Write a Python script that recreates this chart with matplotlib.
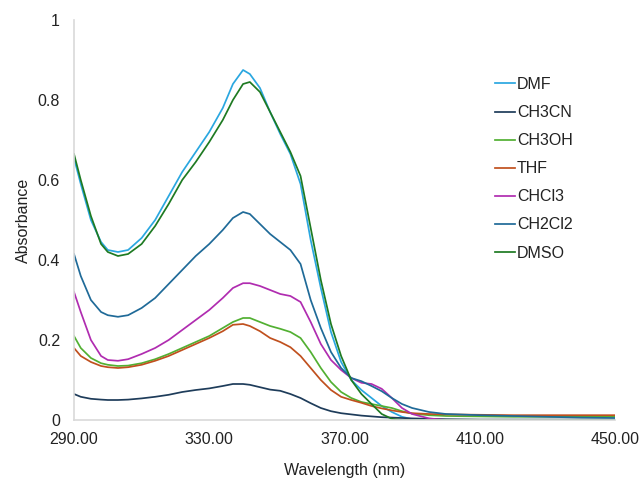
import matplotlib.pyplot as plt

plt.rcParams['font.family'] = ['Liberation Sans', 'DejaVu Sans']

# Wavelength grid (nm) shared by all solvent spectra
wavelength = [290, 292, 295, 298, 300, 303, 306, 310, 314, 318, 322, 326, 330,
              334, 337, 340, 342, 345, 348, 351, 354, 357, 360, 363, 366, 369,
              372, 375, 378, 381, 384, 387, 390, 395, 400, 410, 420, 430, 440, 450]

dmf = [0.655, 0.59, 0.50, 0.445, 0.425, 0.42, 0.425, 0.455, 0.50, 0.56, 0.62, 0.67, 0.72,
       0.78, 0.84, 0.875, 0.865, 0.83, 0.77, 0.715, 0.665, 0.59, 0.45, 0.33, 0.22, 0.145,
       0.10, 0.075, 0.055, 0.035, 0.02, 0.008, 0.002, 0.0, 0.0, 0.0, 0.0, 0.0, 0.0, 0.0]

ch3cn = [0.065, 0.058, 0.053, 0.051, 0.05, 0.05, 0.051, 0.054, 0.058, 0.063, 0.07, 0.075, 0.079,
         0.085, 0.09, 0.09, 0.088, 0.082, 0.076, 0.073, 0.065, 0.055, 0.042, 0.03, 0.022, 0.017,
         0.014, 0.011, 0.009, 0.007, 0.006, 0.005, 0.004, 0.003, 0.002, 0.001, 0.001, 0.001, 0.001, 0.001]

ch3oh = [0.21, 0.18, 0.155, 0.142, 0.138, 0.135, 0.136, 0.142, 0.152, 0.165, 0.18, 0.195, 0.21,
         0.23, 0.245, 0.255, 0.255, 0.245, 0.235, 0.228, 0.22, 0.205, 0.17, 0.13, 0.095, 0.07,
         0.055, 0.045, 0.04, 0.035, 0.03, 0.022, 0.016, 0.012, 0.01, 0.009, 0.008, 0.008, 0.008, 0.008]

thf = [0.18, 0.16, 0.145, 0.135, 0.132, 0.13, 0.132, 0.138, 0.148, 0.16, 0.175, 0.19, 0.205,
       0.222, 0.238, 0.24, 0.235, 0.222, 0.205, 0.195, 0.182, 0.16, 0.13, 0.10, 0.075, 0.058,
       0.05, 0.043, 0.035, 0.029, 0.024, 0.02, 0.017, 0.015, 0.014, 0.013, 0.012, 0.012, 0.012, 0.012]

chcl3 = [0.32, 0.27, 0.20, 0.16, 0.15, 0.148, 0.152, 0.165, 0.18, 0.20, 0.225, 0.25, 0.275,
         0.305, 0.33, 0.342, 0.342, 0.335, 0.325, 0.315, 0.31, 0.295, 0.245, 0.19, 0.15, 0.125,
         0.105, 0.093, 0.09, 0.078, 0.055, 0.03, 0.015, 0.004, 0.0, 0.0, 0.0, 0.0, 0.0, 0.0]

ch2cl2 = [0.415, 0.36, 0.30, 0.27, 0.262, 0.258, 0.262, 0.28, 0.305, 0.34, 0.375, 0.41, 0.44,
          0.475, 0.505, 0.52, 0.515, 0.49, 0.465, 0.445, 0.425, 0.39, 0.30, 0.23, 0.17, 0.13,
          0.105, 0.097, 0.085, 0.072, 0.055, 0.04, 0.03, 0.02, 0.015, 0.012, 0.01, 0.008, 0.006, 0.005]

dmso = [0.665, 0.60, 0.51, 0.44, 0.42, 0.41, 0.415, 0.44, 0.485, 0.54, 0.60, 0.645, 0.695,
        0.75, 0.80, 0.84, 0.845, 0.82, 0.77, 0.72, 0.67, 0.61, 0.48, 0.35, 0.24, 0.16,
        0.10, 0.065, 0.04, 0.015, 0.003, 0.0, 0.0, 0.0, 0.0, 0.0, 0.0, 0.0, 0.0, 0.0]

solvents = ["DMF", "CH3CN", "CH3OH", "THF", "CHCl3", "CH2Cl2", "DMSO"]
spectra = [dmf, ch3cn, ch3oh, thf, chcl3, ch2cl2, dmso]
colors = ["#2aa7e0", "#1e3c5a", "#52b032", "#c0501e", "#b02cb0", "#1f6a98", "#1e7a22"]

xticks = [290, 330, 370, 410, 450]
yticks = [0, 0.2, 0.4, 0.6, 0.8, 1]
ytick_labels = ["0", "0.2", "0.4", "0.6", "0.8", "1"]

fig = plt.figure(figsize=(6.42, 4.79), dpi=100)
ax = fig.add_axes([74 / 642, 1 - 420 / 479, (615 - 74) / 642, 400 / 479])

for spec, name, col in zip(spectra, solvents, colors):
    ax.plot(wavelength, spec, color=col, lw=1.25, label=name)

ax.set_xlim(290, 450)
ax.set_ylim(0, 1)
ax.set_xticks(xticks)
ax.set_xticklabels(["{:.2f}".format(v) for v in xticks])
ax.set_yticks(yticks)
ax.set_yticklabels(ytick_labels)
ax.tick_params(length=0, labelsize=11.5, colors="#222222")
ax.tick_params(axis='x', pad=9)
ax.tick_params(axis='y', pad=10)

for side in ['top', 'right']:
    ax.spines[side].set_visible(False)
for side in ['left', 'bottom']:
    ax.spines[side].set_color("#d9d9d9")
    ax.spines[side].set_linewidth(1.2)

ax.set_xlabel("Wavelength (nm)", fontsize=11.5, color="#222222", labelpad=11)
ax.set_ylabel("Absorbance", fontsize=11.5, color="#222222", labelpad=5)

ax.legend(loc='upper left', bbox_to_anchor=(495 / 642, 1 - 77 / 479),
          bbox_transform=fig.transFigure, frameon=False, fontsize=11.5,
          handlelength=1.25, handletextpad=0.12, labelspacing=0.82,
          borderpad=0, borderaxespad=0, labelcolor="#222222")

fig.savefig("out.png", dpi=100)
